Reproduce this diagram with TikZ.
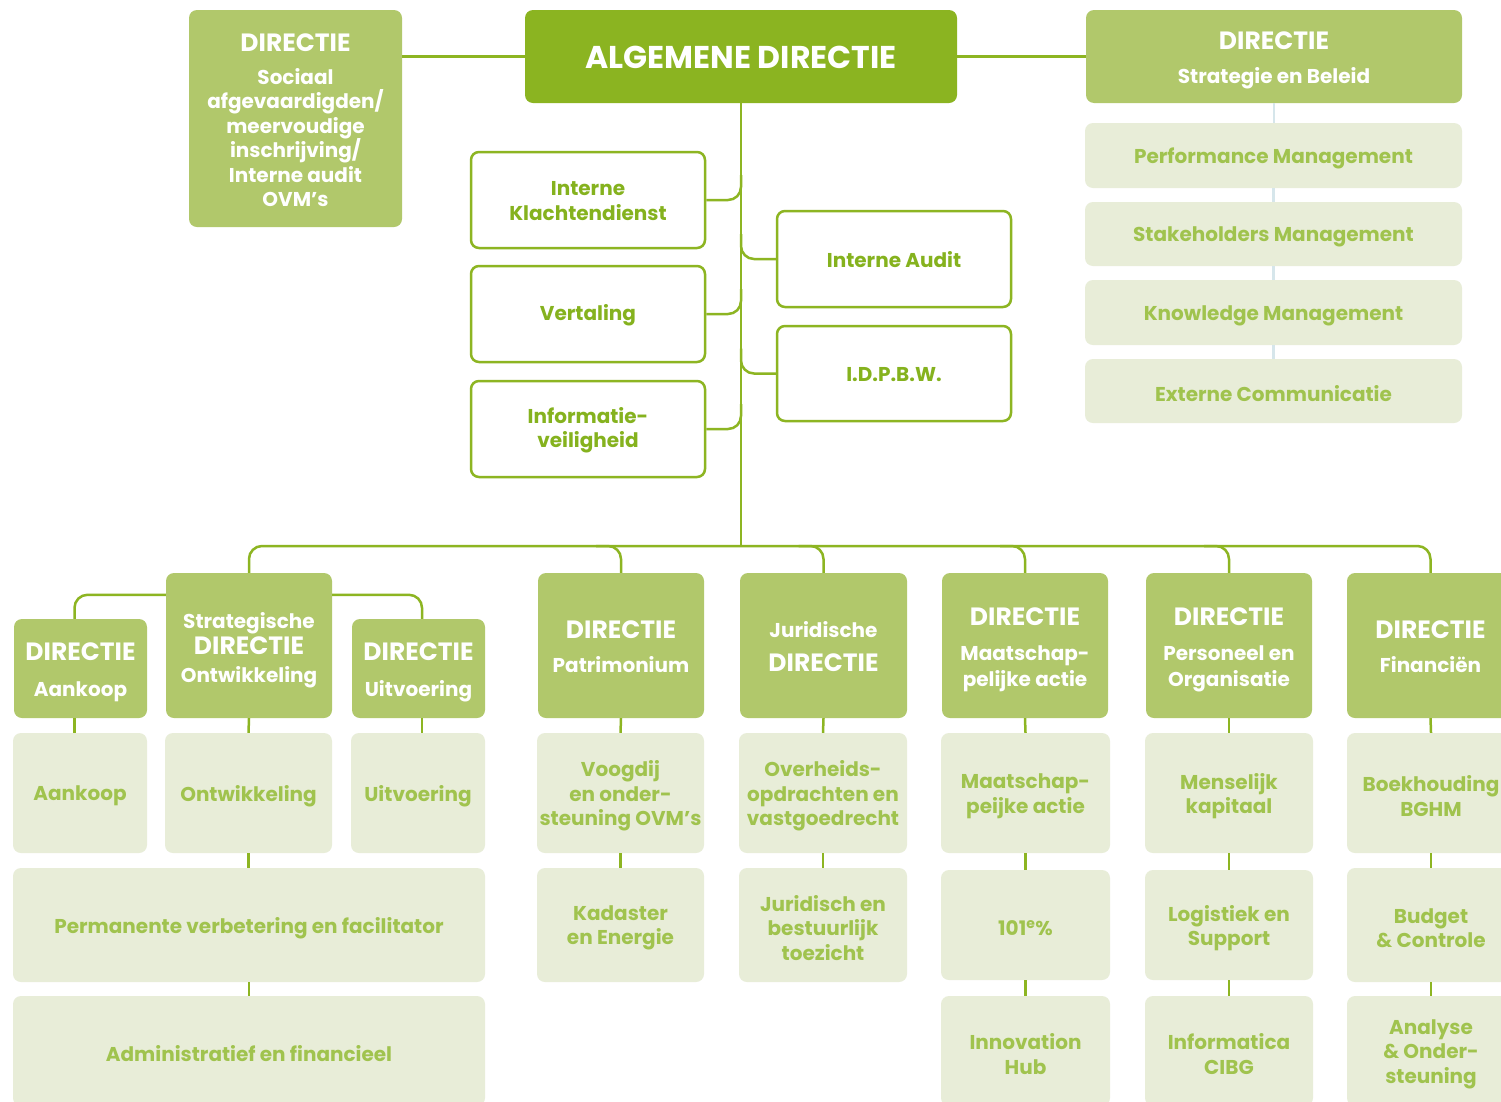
\documentclass[tikz,border=0pt]{standalone}
\usepackage{fontspec}
\setmainfont{Poppins}
\usetikzlibrary{calc}
\definecolor{dkg}{RGB}{139,180,33}
\definecolor{mdg}{RGB}{177,200,107}
\definecolor{ltg}{RGB}{232,237,216}
\definecolor{ltxt}{RGB}{160,195,78}
\definecolor{wtxt}{RGB}{133,178,30}
\definecolor{lnc}{RGB}{141,181,34}
\definecolor{blu}{RGB}{214,230,235}
\newcommand{\Dsz}[1]{{\fontsize{25}{24.5}\selectfont #1}}
\newcommand{\bx}[8][]{\node[#3, minimum width={(#6-#4)*1pt}, minimum height={(#7-#5)*1pt}] (#2) at ({(#4+#6)/2},{(#5+#7)/2}) {};
  \node[#3T,#1] (#2t) at (#2.center) {#8};}
\tikzset{
 boxbase/.style={rounded corners=8pt, inner sep=0pt},
 dark/.style={boxbase, fill=dkg},
 mid/.style={boxbase, fill=mdg},
 lite/.style={boxbase, fill=ltg},
 wbox/.style={boxbase, draw=lnc, line width=2.5pt, fill=white},
 tbase/.style={inner sep=0pt, align=center, font=\bfseries\fontsize{20}{24.5}\selectfont},
 darkT/.style={tbase, text=white, yshift=-1pt},
 midT/.style={tbase, text=white, yshift=-1pt, font=\bfseries\fontsize{20}{25.5}\selectfont},
 liteT/.style={tbase, text=ltxt, yshift=-3pt},
 wboxT/.style={tbase, text=wtxt, yshift=-1pt},
 conn/.style={draw=lnc, line width=2.5pt, rounded corners=13pt},
 bconn/.style={draw=blu, line width=2.5pt},
}
\begin{document}
\begin{tikzpicture}[x=1pt,y=-1pt]
\useasboundingbox (0,0) rectangle (1501,1101);
\clip (0,0) rectangle (1501,1101);
\fill[white] (0,0) rectangle (1501,1101);
% top row
\bx[font=\bfseries\fontsize{20}{24.5}\selectfont, yshift=-1pt]{soc}{mid}{189}{10}{402}{227}{\Dsz{DIRECTIE}\\[8pt]Sociaal\\afgevaardigden/\\meervoudige\\inschrijving/\\Interne audit\\OVM’s}
\bx{alg}{dark}{525}{10}{957}{103}{\fontsize{31.5}{32}\selectfont ALGEMENE DIRECTIE}
\bx[yshift=-3pt]{sb}{mid}{1086}{10}{1462}{103}{\Dsz{DIRECTIE}\\[9pt]Strategie en Beleid}
\bx{pm}{lite}{1085}{123}{1462}{188}{Performance Management}
\bx{sm}{lite}{1085}{202}{1462}{266}{Stakeholders Management}
\bx{km}{lite}{1085}{280}{1462}{345}{Knowledge Management}
\bx{ec}{lite}{1085}{359}{1462}{423}{Externe Communicatie}
% middle staff boxes
\bx{ik}{wbox}{471}{152}{705}{248}{Interne\\Klachtendienst}
\bx{vt}{wbox}{471}{266}{705}{362}{Vertaling}
\bx{iv}{wbox}{471}{381}{705}{477}{Informatie-\\veiligheid}
\bx{ia}{wbox}{777}{211}{1011}{307}{Interne Audit}
\bx{id}{wbox}{777}{326}{1011}{421}{I.D.P.B.W.}
% directions row
\bx[yshift=-3pt]{aank}{mid}{14}{619}{147}{718}{\Dsz{DIRECTIE}\\[10pt]Aankoop}
\bx[yshift=-3.5pt]{strat}{mid}{166}{573}{332}{718}{Strategische\\[1pt]\Dsz{DIRECTIE}\\[2pt]Ontwikkeling}
\bx[yshift=-3pt]{uitv}{mid}{352}{619}{485}{718}{\Dsz{DIRECTIE}\\[10pt]Uitvoering}
\bx{pat}{mid}{538}{573}{704}{718}{\Dsz{DIRECTIE}\\[9pt]Patrimonium}
\bx{jur}{mid}{740}{573}{907}{718}{Juridische\\[9pt]\Dsz{DIRECTIE}}
\bx[yshift=-3pt]{maat}{mid}{942}{573}{1108}{718}{\Dsz{DIRECTIE}\\[10pt]Maatschap-\\pelijke actie}
\bx[yshift=-3pt]{pers}{mid}{1146}{573}{1312}{718}{\Dsz{DIRECTIE}\\[10pt]Personeel en\\Organisatie}
\bx{fin}{mid}{1347}{573}{1514}{718}{\Dsz{DIRECTIE}\\[9pt]Financiën}
% level 2
\bx{aank2}{lite}{13}{733}{147}{853}{Aankoop}
\bx{ontw}{lite}{165}{733}{332}{853}{Ontwikkeling}
\bx{uitv2}{lite}{351}{733}{485}{853}{Uitvoering}
\bx{voog}{lite}{537}{733}{704}{853}{Voogdij\\en onder-\\steuning OVM’s}
\bx{over}{lite}{739}{733}{907}{853}{Overheids-\\opdrachten en\\vastgoedrecht}
\bx{maat2}{lite}{941}{733}{1110}{853}{Maatschap-\\peijke actie}
\bx{mens}{lite}{1145}{733}{1313}{853}{Menselijk\\kapitaal}
\bx{boek}{lite}{1347}{733}{1515}{853}{Boekhouding\\BGHM}
% level 3
\bx{perm}{lite}{13}{868}{485}{982}{Permanente verbetering en facilitator}
\bx{kad}{lite}{537}{868}{704}{982}{Kadaster\\en Energie}
\bx{jbt}{lite}{739}{868}{907}{982}{Juridisch en\\bestuurlijk\\toezicht}
\bx{hon}{lite}{941}{870}{1110}{980}{101\textsuperscript{e}\%}
\bx{log}{lite}{1145}{870}{1313}{980}{Logistiek en\\Support}
\bx{bud}{lite}{1347}{868}{1515}{982}{Budget\\\& Controle}
% level 4
\bx{adm}{lite}{13}{996}{485}{1106}{Administratief en financieel}
\bx{ih}{lite}{941}{996}{1110}{1106}{Innovation\\Hub}
\bx{inf}{lite}{1145}{996}{1313}{1106}{Informatica\\CIBG}
\bx{ana}{lite}{1347}{996}{1515}{1106}{Analyse\\\& Onder-\\steuning}
% connectors top
\coordinate (bus) at (741,546);
\draw[conn] (alg.west) -- (alg.west -| soc.east);
\draw[conn] (alg.east) -- (alg.east -| sb.west);
\draw[conn] (alg.south) -- (bus);
\draw[bconn] (sb.south) -- (sb.south |- pm.north);
\draw[bconn] (pm.south) -- (pm.south |- sm.north);
\draw[bconn] (sm.south) -- (sm.south |- km.north);
\draw[bconn] (km.south) -- (km.south |- ec.north);
\draw[conn] (ik.east) -- (ik.east -| alg.south) -- ++(0,-25);
\draw[conn] (vt.east) -- (vt.east -| alg.south) -- ++(0,-25);
\draw[conn] (iv.east) -- (iv.east -| alg.south) -- ++(0,-25);
\draw[conn] (ia.west) -- (ia.west -| alg.south) -- ++(0,-25);
\draw[conn] (id.west) -- (id.west -| alg.south) -- ++(0,-25);
% bus
\draw[conn] (strat.north) -- (strat.north |- bus) -- (fin.north |- bus) -- (fin.north);
\draw[conn] ($(pat.north |- bus)+(-25,0)$) -| (pat.north);
\draw[conn] ($(jur.north |- bus)+(-25,0)$) -| (jur.north);
\draw[conn] ($(maat.north |- bus)+(-25,0)$) -| (maat.north);
\draw[conn] ($(pers.north |- bus)+(-25,0)$) -| (pers.north);
\draw[conn] ($(strat.north west)+(0,22)$) -| ([xshift=-6pt]aank.north);
\draw[conn] ($(strat.north east)+(0,22)$) -| ([xshift=3.5pt]uitv.north);
% vertical links
\draw[conn] ([xshift=-6pt]aank.south) -- ([xshift=-6pt]aank.south |- aank2.north);
\draw[conn] (strat.south) -- (ontw.north);
\draw[conn] ([xshift=3.5pt]uitv.south) -- ([xshift=3.5pt]uitv.south |- uitv2.north);
\draw[conn] (ontw.south) -- (ontw.south |- perm.north);
\draw[conn] (perm.south) -- (adm.north);
\draw[conn] (pat.south) -- (voog.north);
\draw[conn] (voog.south) -- (kad.north);
\draw[conn] (jur.south) -- (over.north);
\draw[conn] (over.south) -- (jbt.north);
\draw[conn] (maat.south) -- (maat2.north);
\draw[conn] (maat2.south) -- (hon.north);
\draw[conn] (hon.south) -- (ih.north);
\draw[conn] (pers.south) -- (mens.north);
\draw[conn] (mens.south) -- (log.north);
\draw[conn] (log.south) -- (inf.north);
\draw[conn] (fin.south) -- (boek.north);
\draw[conn] (boek.south) -- (bud.north);
\draw[conn] (bud.south) -- (ana.north);
\end{tikzpicture}
\end{document}
